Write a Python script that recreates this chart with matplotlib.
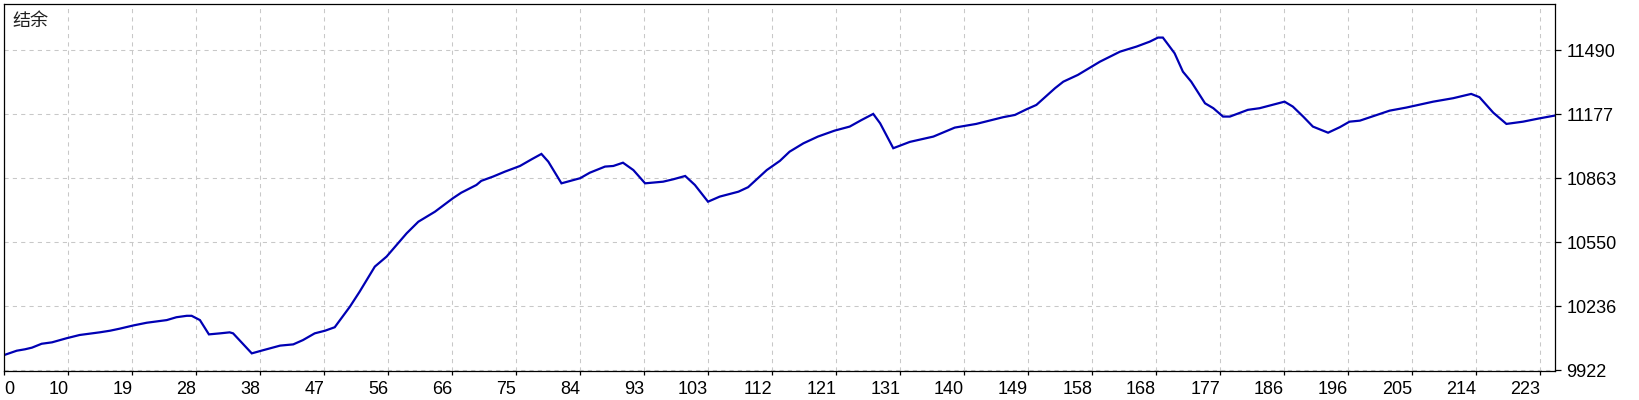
import matplotlib
matplotlib.use('Agg')
import matplotlib.pyplot as plt
import numpy as np

plt.rcParams['font.family'] = ['Liberation Sans', 'Noto Sans CJK SC', 'DejaVu Sans']

# balance curve, vertices (trade index, balance)
TRADE_IDX = [0, 1.8, 3.0, 4.0, 5.4, 6.9, 9.0, 10.9, 13.8, 15.3, 16.7, 18.7, 20.6,
             23.5, 24.9, 26.4, 27.1, 28.3, 29.6, 31.2, 32.6, 33.1, 35.8, 37.5,
             39.9, 41.8, 43.2, 44.9, 46.4, 47.8, 50.0, 51.4, 53.6, 55.3, 58.2,
             59.9, 62.3, 64.9, 66.1, 68.3, 69.0, 70.7, 72.4, 74.6, 76.3, 77.7,
             78.7, 80.6, 83.3, 84.7, 86.9, 88.1, 89.5, 91.0, 92.7, 95.3, 96.8,
             98.5, 99.9, 101.8, 103.5, 106.2, 107.6, 110.3, 112.2, 113.6, 115.6,
             117.7, 120.1, 122.3, 124.0, 125.7, 126.7, 128.6, 131.0, 134.4, 137.5,
             140.6, 144.5, 146.2, 147.9, 149.3, 152.0, 153.2, 155.3, 158.5, 161.4,
             163.8, 165.7, 166.9, 167.6, 168.4, 169.3, 170.5, 171.7, 173.7, 174.9,
             176.3, 177.3, 179.9, 181.6, 185.2, 186.4, 187.9, 189.3, 191.5, 193.2,
             194.6, 196.1, 200.4, 202.8, 206.7, 209.6, 212.2, 213.4, 215.4, 217.3,
             219.7, 221.9, 224.3]
BALANCE = [9997, 10018, 10025, 10033, 10052, 10059, 10079, 10095, 10108, 10116,
           10126, 10142, 10155, 10168, 10182, 10189, 10189, 10168, 10098, 10103,
           10108, 10103, 10005, 10021, 10043, 10049, 10070, 10103, 10116, 10133,
           10234, 10307, 10430, 10479, 10593, 10650, 10699, 10765, 10792, 10830,
           10850, 10871, 10895, 10923, 10956, 10982, 10944, 10838, 10863, 10890,
           10920, 10923, 10939, 10903, 10838, 10846, 10858, 10874, 10830, 10748,
           10773, 10797, 10819, 10903, 10948, 10993, 11034, 11067, 11096, 11116,
           11148, 11178, 11132, 11010, 11041, 11067, 11111, 11129, 11162, 11173,
           11201, 11222, 11304, 11336, 11369, 11434, 11483, 11508, 11532, 11552,
           11552, 11516, 11475, 11385, 11336, 11230, 11206, 11165, 11165, 11198,
           11206, 11238, 11214, 11165, 11116, 11086, 11113, 11140, 11145, 11194,
           11209, 11238, 11255, 11276, 11260, 11184, 11129, 11140, 11155, 11170]

X_LABELS = ['0', '10', '19', '28', '38', '47', '56', '66', '75', '84', '93', '103',
            '112', '121', '131', '140', '149', '158', '168', '177', '186', '196',
            '205', '214', '223']
Y_TICKS = [9922, 10236, 10550, 10863, 11177, 11490]
TITLE = '结余'

W, H = 1640, 400
fig = plt.figure(figsize=(W / 100, H / 100), dpi=100)
ax = fig.add_axes([4.3 / W, 1 - 371 / H, (1555.5 - 4.3) / W, (371 - 4.3) / H])

ax.plot(TRADE_IDX, BALANCE, color='#0000b4', lw=1.6, solid_joinstyle='miter')

x_step = 9.257
xt = np.arange(len(X_LABELS)) * x_step
ax.set_xlim(0, 224.4)
ax.set_ylim(9918.6, 11715)
ax.set_xticks(xt)
ax.set_xticklabels(X_LABELS)
ax.set_yticks(Y_TICKS)

for lab in ax.get_xticklabels():
    lab.set_horizontalalignment('right')
ax.get_xticklabels()[0].set_horizontalalignment('left')

ax.yaxis.tick_right()
ax.tick_params(axis='both', labelsize=13, colors='black', width=0.9)
ax.tick_params(axis='x', length=3, pad=4)
ax.tick_params(axis='y', length=4, pad=4)

ax.grid(True, color='#c8c8c8', lw=0.75, linestyle=(0, (4, 4)))
for s in ax.spines.values():
    s.set_linewidth(0.9)
    s.set_color('black')

fig.text(12 / W, 1 - 21 / H, TITLE, fontsize=13, color='#202020', va='center', ha='left')

fig.savefig('out.png', dpi=100)
